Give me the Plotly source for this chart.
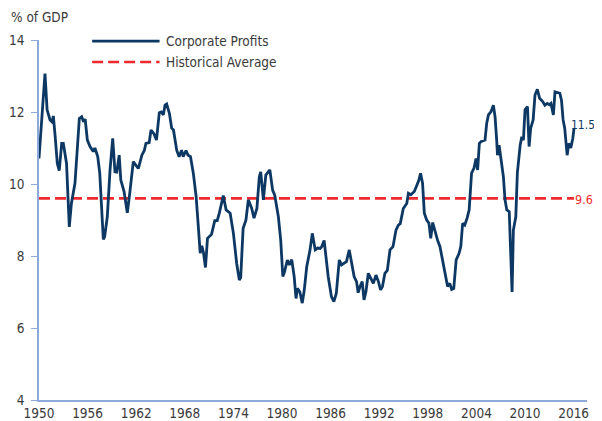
import plotly.graph_objects as go

# Corporate profits, % of GDP
years = [
    1950.0, 1950.74, 1951.0, 1951.36, 1951.6, 1951.77, 1952.0, 1952.26, 1952.5, 1952.8,
    1953.0, 1953.4, 1953.74, 1954.0, 1954.44, 1954.98, 1955.27, 1955.5, 1955.7, 1955.97,
    1956.3, 1956.7, 1956.9, 1957.25, 1957.5, 1957.94, 1958.1, 1958.43, 1958.77, 1959.1,
    1959.38, 1959.6, 1959.9, 1960.1, 1960.5, 1960.9, 1961.2, 1961.64, 1961.9, 1962.26,
    1962.7, 1963.0, 1963.2, 1963.6, 1963.83, 1964.2, 1964.5, 1964.85, 1965.1, 1965.35,
    1965.56, 1965.76, 1966.1, 1966.38, 1966.6, 1967.0, 1967.3, 1967.6, 1967.8, 1968.15,
    1968.4, 1968.7, 1969.05, 1969.4, 1969.67, 1969.9, 1970.1, 1970.3, 1970.55, 1970.8,
    1971.3, 1971.7, 1972.0, 1972.26, 1972.75, 1973.1, 1973.6, 1974.0, 1974.4, 1974.73,
    1974.9, 1975.2, 1975.55, 1975.84, 1976.26, 1976.54, 1976.9, 1977.2, 1977.37, 1977.7,
    1978.0, 1978.26, 1978.5, 1978.84, 1979.1, 1979.55, 1979.84, 1980.1, 1980.3, 1980.66,
    1980.9, 1981.2, 1981.5, 1981.73, 1981.9, 1982.2, 1982.5, 1982.75, 1983.05, 1983.46,
    1983.74, 1984.1, 1984.4, 1984.7, 1984.9, 1985.2, 1985.4, 1985.7, 1986.1, 1986.4,
    1986.7, 1987.07, 1987.35, 1987.7, 1987.95, 1988.3, 1988.6, 1988.9, 1989.2, 1989.4,
    1989.6, 1989.9, 1990.12, 1990.36, 1990.65, 1990.95, 1991.27, 1991.6, 1991.9, 1992.17,
    1992.4, 1992.7, 1993.0, 1993.33, 1993.7, 1994.07, 1994.36, 1994.6, 1994.97, 1995.4,
    1995.6, 1995.9, 1996.33, 1996.6, 1996.9, 1997.1, 1997.35, 1997.57, 1997.86, 1998.14,
    1998.36, 1998.6, 1998.9, 1999.2, 1999.5, 1999.8, 2000.1, 2000.44, 2000.7, 2000.95,
    2001.2, 2001.5, 2001.85, 2002.07, 2002.3, 2002.56, 2002.85, 2003.1, 2003.4, 2003.7,
    2003.95, 2004.15, 2004.36, 2004.6, 2005.06, 2005.27, 2005.48, 2005.8, 2006.09, 2006.3,
    2006.5, 2006.6, 2006.8, 2007.0, 2007.33, 2007.53, 2007.75, 2008.05, 2008.27, 2008.4,
    2008.56, 2008.86, 2009.05, 2009.4, 2009.6, 2009.8, 2010.0, 2010.3, 2010.5, 2010.7,
    2011.0, 2011.23, 2011.52, 2011.8, 2012.18, 2012.45, 2012.75, 2013.0, 2013.2, 2013.5,
    2013.7, 2014.0, 2014.3, 2014.5, 2014.7, 2014.9, 2015.2, 2015.4, 2015.65, 2015.9,
    2016.05,
]
profits = [
    10.71, 13.07, 12.06, 11.78, 11.73, 11.89, 11.31, 10.57, 10.37, 11.13,
    11.13, 10.57, 8.81, 9.46, 10.02, 11.82, 11.87, 11.73, 11.80, 11.22,
    11.04, 10.90, 11.00, 10.76, 10.30, 8.46, 8.53, 9.09, 10.39, 11.27,
    10.34, 10.33, 10.80, 10.11, 9.79, 9.20, 9.74, 10.62, 10.54, 10.43,
    10.80, 10.93, 11.13, 11.15, 11.50, 11.39, 11.22, 11.98, 12.00, 11.92,
    12.19, 12.22, 11.96, 11.55, 11.50, 10.94, 10.76, 10.94, 10.76, 10.93,
    10.80, 10.76, 10.30, 9.65, 8.81, 8.08, 8.28, 8.10, 7.68, 8.49,
    8.60, 8.98, 8.98, 9.19, 9.68, 9.28, 9.19, 8.63, 7.80, 7.33,
    7.40, 8.77, 9.00, 9.56, 9.32, 9.05, 9.32, 10.20, 10.34, 9.56,
    10.25, 10.33, 10.39, 9.83, 9.69, 9.09, 8.44, 7.43, 7.55, 7.89,
    7.75, 7.90, 7.43, 6.82, 7.10, 7.00, 6.69, 7.06, 7.70, 8.17,
    8.63, 8.17, 8.22, 8.21, 8.26, 8.43, 7.98, 7.43, 6.87, 6.73,
    6.96, 7.89, 7.75, 7.80, 7.84, 8.17, 7.80, 7.43, 7.29, 6.98,
    7.13, 7.29, 6.78, 7.01, 7.52, 7.38, 7.24, 7.47, 7.29, 7.06,
    7.15, 7.52, 7.60, 8.17, 8.26, 8.72, 8.86, 8.90, 9.32, 9.46,
    9.74, 9.70, 9.79, 9.94, 10.11, 10.30, 10.02, 9.19, 9.00, 8.91,
    8.49, 8.93, 8.68, 8.44, 8.26, 7.89, 7.52, 7.15, 7.24, 7.07,
    7.10, 7.89, 8.07, 8.26, 8.91, 8.86, 9.05, 9.28, 10.30, 10.44,
    10.71, 10.39, 11.13, 11.18, 11.22, 11.69, 11.92, 12.01, 12.19, 11.87,
    11.22, 10.80, 11.08, 10.76, 10.20, 9.56, 9.28, 9.23, 7.52, 7.00,
    8.72, 9.09, 10.30, 11.08, 11.31, 11.22, 12.06, 12.15, 11.04, 11.55,
    11.78, 12.47, 12.63, 12.38, 12.29, 12.19, 12.24, 12.20, 12.24, 11.92,
    12.56, 12.54, 12.52, 12.33, 11.78, 11.55, 10.80, 11.13, 11.00, 11.27,
    11.55,
]
historical_average = 9.6
last_value_label = "11.5"
average_label = "9.6"
tick_years = [1950, 1956, 1962, 1968, 1974, 1980, 1986, 1992, 1998, 2004, 2010, 2016]
y_ticks = [4, 6, 8, 10, 12, 14]

NAVY = "#0C3863"
RED = "#EE2A2E"
AXIS = "#8EAADB"
TEXT = "#3A3A3A"
FONT = "Liberation Sans Narrow, Arial Narrow, DejaVu Sans Condensed, sans-serif"
FS = 13.5

fig = go.Figure()
fig.add_trace(go.Scatter(
    x=[years[0], years[-1]], y=[historical_average, historical_average],
    mode="lines", line=dict(color=RED, width=2.6, dash="11px,5px"),
    name="Historical Average", showlegend=False, hoverinfo="skip"))
fig.add_trace(go.Scatter(
    x=years, y=profits, mode="lines",
    line=dict(color=NAVY, width=2.8), name="Corporate Profits", showlegend=False))

# manual legend (paper coords; plot area 548 x 360 px)
fig.add_shape(type="line", xref="paper", yref="paper", x0=0.097, x1=0.22, y0=0.997, y1=0.997,
              line=dict(color=NAVY, width=2.8))
fig.add_shape(type="line", xref="paper", yref="paper", x0=0.097, x1=0.22, y0=0.939, y1=0.939,
              line=dict(color=RED, width=2.6, dash="11px,5px"))
fig.add_annotation(xref="paper", yref="paper", x=0.229, y=0.997, text="Corporate Profits",
                   showarrow=False, xanchor="left", yanchor="middle",
                   font=dict(family=FONT, size=FS, color=TEXT))
fig.add_annotation(xref="paper", yref="paper", x=0.229, y=0.939, text="Historical Average",
                   showarrow=False, xanchor="left", yanchor="middle",
                   font=dict(family=FONT, size=FS, color=TEXT))
fig.add_annotation(xref="paper", yref="paper", x=-0.055, y=1.064, text="% of GDP",
                   showarrow=False, xanchor="left", yanchor="middle",
                   font=dict(family=FONT, size=FS, color=TEXT))
# end-of-series labels, right-aligned near the page edge
fig.add_annotation(xref="paper", x=1.0185, y=11.64, text=last_value_label, showarrow=False,
                   xanchor="right", yanchor="middle", font=dict(family=FONT, size=12, color=NAVY))
fig.add_annotation(xref="paper", x=1.0145, y=historical_average - 0.02, text=average_label,
                   showarrow=False, xanchor="right", yanchor="middle",
                   font=dict(family=FONT, size=12.5, color=RED))

# page body adds an 8px offset, so the figure is 8px smaller than the window
fig.update_layout(
    width=594, height=413,
    margin=dict(l=31, r=15, t=32, b=21, autoexpand=False),
    paper_bgcolor="white", plot_bgcolor="white",
    font=dict(family=FONT, size=FS, color=TEXT),
    showlegend=False,
    xaxis=dict(range=[1950, 2017.65], tickvals=tick_years, ticktext=[str(t) for t in tick_years],
               showgrid=False, zeroline=False, showline=True, linecolor=AXIS, linewidth=1.5,
               ticks="", automargin=False, tickfont=dict(family=FONT, size=FS, color=TEXT)),
    yaxis=dict(range=[4, 14], tickvals=y_ticks, showgrid=False, zeroline=False,
               showline=True, linecolor=AXIS, linewidth=1.5, ticks="outside", ticklen=6,
               tickcolor=AXIS, tickwidth=1, ticklabelstandoff=4, automargin=False,
               tickfont=dict(family=FONT, size=FS, color=TEXT)),
)
fig.write_html("out.html")
